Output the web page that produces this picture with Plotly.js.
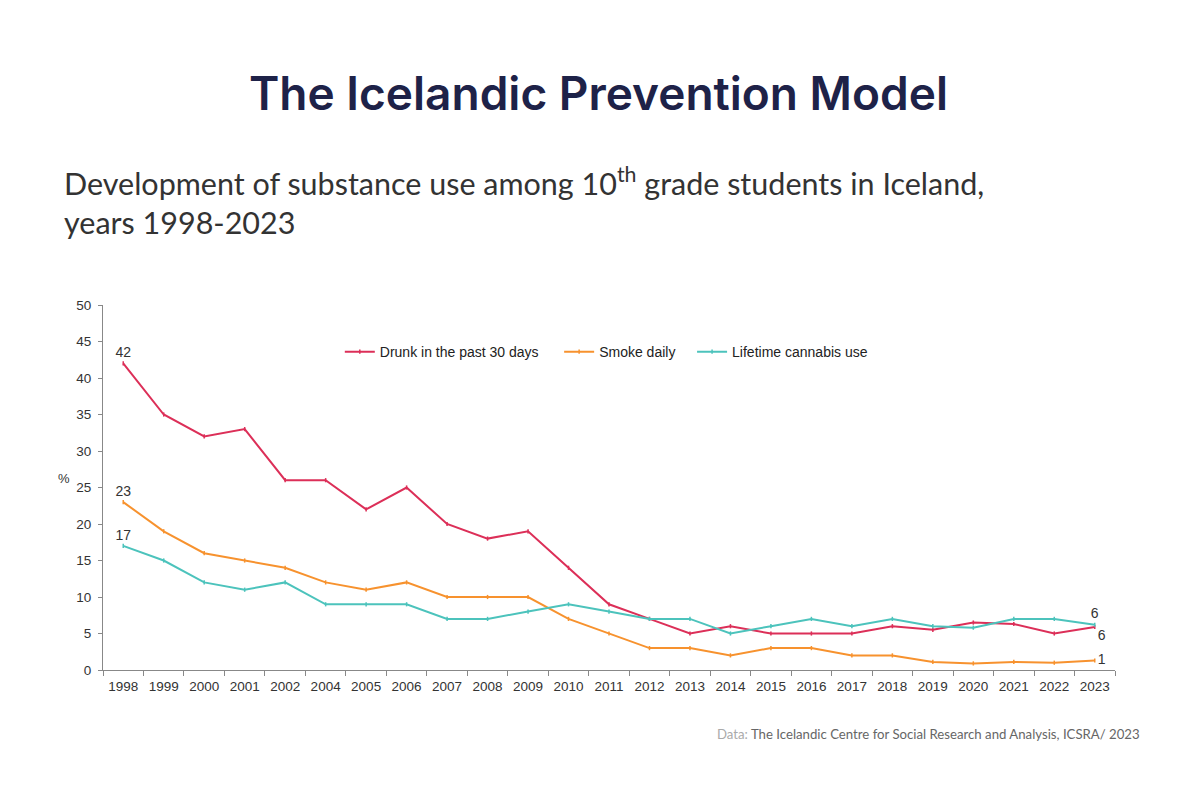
<!DOCTYPE html>
<html>
<head>
<meta charset="utf-8">
<script src="https://cdn.plot.ly/plotly-3.0.1.min.js"></script>
<style>
html,body{margin:0;padding:0;background:#fff;}
#chart{width:1200px;height:800px;}
</style>
</head>
<body>
<div id="chart"></div>
<script>
const years = ["1998","1999","2000","2001","2002","2004","2005","2006","2007","2008","2009","2010","2011","2012","2013","2014","2015","2016","2017","2018","2019","2020","2021","2022","2023"];
const drunk = [42,35,32,33,26,26,22,25,20,18,19,14,9,7,5,6,5,5,5,6,5.5,6.5,6.3,5,5.9];
const smoke = [23,19,16,15,14,12,11,12,10,10,10,7,5,3,3,2,3,3,2,2,1.1,0.9,1.1,1.0,1.3];
const cannabis = [17,15,12,11,12,9,9,9,7,7,8,9,8,7,7,5,6,7,6,7,6,5.8,7,7,6.2];
const seriesNames = ["Drunk in the past 30 days","Smoke daily","Lifetime cannabis use"];
const drunkLabels = ["42","","","","","","","","","","","","","","","","","","","","","","","","6"];
const smokeLabels = ["23","","","","","","","","","","","","","","","","","","","","","","","","1"];
const cannabisLabels = ["17","","","","","","","","","","","","","","","","","","","","","","","","6"];

function positions(first, last){
  return years.map((_, i) => i === 0 ? first : (i === years.length - 1 ? last : "top center"));
}

const legendPad = ["\u00a0\u00a0\u00a0\u00a0", "\u00a0\u00a0\u00a0", ""];

function trace(y, idx, color, labels, lastPos){
  return {
    x: years, y: y, name: seriesNames[idx] + legendPad[idx], type: "scatter", mode: "lines+markers+text",
    line: {color: color, width: 2},
    marker: {symbol: "line-ns", size: 3, color: color, line: {color: color, width: 1.5}},
    text: labels, textposition: positions("top center", lastPos),
    textfont: {family: "Liberation Sans, Arial, sans-serif", size: 14, color: "#333"},
    cliponaxis: false, hoverinfo: "x+y"
  };
}

const data = [
  trace(drunk, 0, "#DC2F58", drunkLabels, "bottom right"),
  trace(smoke, 1, "#F7922E", smokeLabels, "middle right"),
  trace(cannabis, 2, "#4CC3BC", cannabisLabels, "top center")
];

const axisFont = {family: "Liberation Sans, Arial, sans-serif", size: 13.5, color: "#333"};

const layout = {
  width: 1200, height: 800,
  paper_bgcolor: "#fff", plot_bgcolor: "#fff",
  margin: {l: 103, r: 85, t: 305, b: 130},
  showlegend: true,
  legend: {orientation: "h", x: 0.234, y: 0.871, xanchor: "left", yanchor: "middle",
    font: {family: "Liberation Sans, Arial, sans-serif", size: 14, color: "#222"},
    bgcolor: "rgba(0,0,0,0)", itemwidth: 30, traceorder: "normal"},
  xaxis: {type: "category", range: [-0.5, 24.5], showgrid: false, zeroline: false,
    showline: true, linecolor: "#888", linewidth: 1,
    ticks: "outside", tickson: "boundaries", ticklen: 5, tickcolor: "#888",
    ticklabelstandoff: 4,
    tickfont: axisFont, fixedrange: true},
  yaxis: {range: [0, 50], dtick: 5, showgrid: false, zeroline: false,
    showline: true, linecolor: "#888", linewidth: 1,
    ticks: "outside", ticklen: 4, tickcolor: "#888",
    ticklabelstandoff: 4,
    tickfont: axisFont, fixedrange: true},
  annotations: [
    {text: "The Icelandic Prevention Model", xref: "paper", yref: "paper",
     x: 0, y: 0, showarrow: false, xanchor: "center", yanchor: "middle",
     font: {family: "Inter, sans-serif", size: 46, weight: 600, color: "#1E2248"}},
    {text: "%", xref: "paper", yref: "paper", x: 0, y: 0, showarrow: false,
     font: {family: "Liberation Sans, Arial, sans-serif", size: 13, color: "#333"}},
    {text: "Development of substance use among 10<sup>th</sup> grade students in Iceland,",
     xref: "paper", yref: "paper", x: 0, y: 0, showarrow: false, align: "left",
     xanchor: "left", yanchor: "middle",
     font: {family: "Lato, sans-serif", size: 30.5, color: "#333"}},
    {text: "years 1998-2023",
     xref: "paper", yref: "paper", x: 0, y: 0, showarrow: false, align: "left",
     xanchor: "left", yanchor: "middle",
     font: {family: "Lato, sans-serif", size: 30.5, color: "#333"}},
    {text: "<span style=\"color:#aaa\">Data:</span> The Icelandic Centre for Social Research and Analysis, ICSRA/ 2023",
     xref: "paper", yref: "paper", x: 0, y: 0, showarrow: false, xanchor: "right", yanchor: "middle",
     font: {family: "Lato, sans-serif", size: 13.2, color: "#666"}}
  ]
};

// convert pixel positions of page texts into paper coordinates
const plotW = 1200 - 103 - 85, plotH = 800 - 305 - 130;
function px(x){ return (x - 103) / plotW; }
function py(y){ return (800 - 130 - y) / plotH; }
layout.annotations[0].x = px(598); layout.annotations[0].y = py(93);
layout.annotations[1].x = px(56); layout.annotations[1].y = py(478);
layout.annotations[2].x = px(62); layout.annotations[2].y = py(181);
layout.annotations[3].x = px(62); layout.annotations[3].y = py(222);
layout.annotations[4].x = px(1142); layout.annotations[4].y = py(734);

Plotly.newPlot("chart", data, layout, {displayModeBar: false, staticPlot: true});
</script>
</body>
</html>
